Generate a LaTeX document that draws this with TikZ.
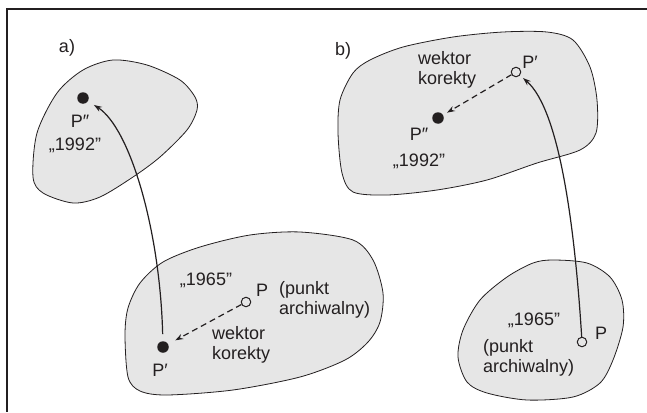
\documentclass[tikz,border=0pt]{standalone}
\usepackage{fontspec}
\setmainfont{Liberation Sans}
\usetikzlibrary{arrows.meta}
\definecolor{blobgray}{RGB}{230,230,230}
\definecolor{ink}{RGB}{35,31,32}
\begin{document}
\begin{tikzpicture}[x=1pt,y=-1pt,
  txt/.style={inner sep=0pt,text=ink,font=\fontsize{18}{20.5}\selectfont},
  blk/.style={txt,align=left,anchor=west},
  blob/.style={draw=ink,line width=0.8pt,fill=blobgray},
  fulldot/.style={circle,fill=ink,inner sep=0pt,minimum size=11.5pt},
  opendot/.style={circle,draw=ink,line width=1pt,inner sep=0pt,minimum size=9.5pt},
  arr/.style={draw=ink,line width=1.2pt,-{Stealth[length=8pt,width=5.5pt]}},
  dasharr/.style={arr,dash pattern=on 6pt off 4pt}]
\useasboundingbox (0,0) rectangle (647,412);
% frame lines
\draw[ink,line width=1.5pt] (647,9) -- (7,9) -- (7,412);

% regions
\draw[blob] plot[smooth cycle] coordinates {(33,177) (37,133) (57,93) (83,70) (113,60) (147,65) (180,80) (195,97) (197,110) (187,130) (160,157) (133,177) (100,197) (73,203) (43,193)};
\draw[blob] plot[smooth cycle] coordinates {(125,335) (128,308) (140,283) (163,262) (200,247) (250,235) (300,232) (353,240) (373,260) (383,293) (380,322) (368,342) (345,360) (300,377) (233,390) (167,395) (140,391) (128,377)};
\draw[blob] plot[smooth cycle] coordinates {(338,133) (340,100) (353,73) (370,60) (403,47) (453,37) (503,32) (547,32) (573,40) (590,67) (597,100) (596,133) (580,150) (537,163) (487,180) (437,190) (387,195) (353,192) (342,173)};
\draw[blob] plot[smooth cycle] coordinates {(553,260) (587,263) (610,277) (622,300) (623,327) (613,360) (600,383) (573,397) (527,400) (487,393) (467,382) (458,357) (463,330) (480,300) (507,277) (533,263)};

% panel a)
\node[txt] (la) at (67,48) {a)};
\node[fulldot] (Pbisa) at (83,98) {};
\node[txt] (Pbisalbl) at (80,121) {P″};
\node[txt] (yra) at (75,145) {„1992”};
\node[fulldot] (Ppra) at (163,347) {};
\node[txt] (Ppralbl) at (160,370) {P′};
\node[opendot] (Pa) at (246,302) {};
\node[txt] (Palbl) at (262,290) {P};
\node[txt] (yrb) at (206,280) {„1965”};
\node[blk] (archa) at (279,300) {(punkt\\archiwalny)};
\node[blk] (weka) at (212,345) {wektor\\korekty};
\draw[arr,shorten <=7pt,shorten >=7pt] (Ppra) .. controls (160,230) and (130,128) .. (Pbisa);
\draw[dasharr,shorten >=8pt] (Pa) -- (Ppra);

% panel b)
\node[txt] (lb) at (343,51) {b)};
\node[opendot] (Pprb) at (516,72) {};
\node[txt] (Pprblbl) at (530,62) {P′};
\node[blk] (wekb) at (418,70) {wektor\\korekty};
\node[fulldot] (Pbisb) at (438,118) {};
\node[txt] (Pbisblbl) at (419,134) {P″};
\node[txt] (yrc) at (419,161) {„1992”};
\node[opendot] (Pb) at (582,342) {};
\node[txt] (Pblbl) at (601,333) {P};
\node[txt] (yrd) at (534,320) {„1965”};
\node[blk] (archb) at (483,358) {(punkt\\archiwalny)};
\draw[arr,shorten >=4pt] (Pb) .. controls (575,230) and (560,110) .. (Pprb);
\draw[dasharr,shorten >=4.5pt] (Pprb) -- (Pbisb);
\end{tikzpicture}
\end{document}
